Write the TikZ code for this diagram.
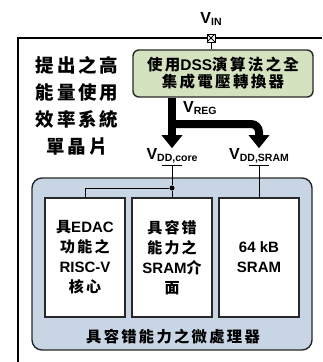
\documentclass[tikz,border=0pt]{standalone}
\usepackage{fontspec}
\setmainfont{Liberation Sans}
\newfontfamily\cjk[LetterSpace=15]{Noto Sans CJK TC}
\newfontfamily\cjkwide[LetterSpace=16]{Noto Sans CJK TC}
\newcommand\zh[1]{{\cjk#1}}
\newcommand\volt[1]{V\raisebox{-0.3ex}{\fontsize{10.5}{10.5}\selectfont#1}}
\usepackage{tikz}
\usetikzlibrary{arrows.meta}

\definecolor{convgreen}{RGB}{213,226,192}
\definecolor{cpublue}{RGB}{200,213,228}
\definecolor{edge}{RGB}{40,40,40}

\begin{document}
\begin{tikzpicture}[
  x=1pt, y=-1pt,
  font=\bfseries\fontsize{15}{20}\selectfont,
  frame/.style={line width=2pt, draw=black},
  pad/.style={
    draw, fill=white, minimum size=8pt, inner sep=0pt, line width=1pt,
    path picture={
      \draw[line width=0.8pt] (path picture bounding box.north west) -- (path picture bounding box.south east)
        (path picture bounding box.north east) -- (path picture bounding box.south west);
    }
  },
  conv/.style={
    draw=edge, fill=convgreen, rounded corners=6pt, line width=1.4pt,
    minimum width=180pt, minimum height=47pt, align=center, inner sep=0pt,
    font=\bfseries\fontsize{15.5}{17}\selectfont
  },
  cpu/.style={
    draw=edge, fill=cpublue, rounded corners=10pt, line width=1.4pt,
    minimum width=280pt, minimum height=172pt
  },
  blk/.style={
    draw=edge, fill=white, line width=1.3pt, align=center, inner sep=0pt,
    minimum width=80pt, minimum height=119pt
  },
  rail/.style={font=\bfseries\fontsize{16}{16}\selectfont, inner sep=0pt},
  bus/.style={line width=8pt, -{Triangle[width=20pt,length=13pt]}, rounded corners=8pt},
  wire/.style={line width=1pt},
  tap/.style={circle, fill=black, minimum size=5pt, inner sep=0pt}
]
  \useasboundingbox (0,0) rectangle (322,362);

  % chip outline, open to the right and bottom
  \draw[frame] (322,38) -| (18,362);

  \node[rail] (vin) at (211,19) {\volt{IN}};
  \node[pad] (pin) at (211,38) {};
  \node[conv] (conv) at (223,73.5) {\zh{使用}DSS\zh{演算法之全}\\\zh{集成電壓轉換器}};
  \draw[wire] (pin.south) -- (pin.south |- conv.north);

  \node[align=center, inner sep=0pt, font=\bfseries\cjkwide\fontsize{18.5}{27}\selectfont] (title) at (77,106)
    {提出之高\\能量使用\\效率系統\\單晶片};

  \node[rail, anchor=west] (vreg) at (183,108) {\volt{REG}};
  \node[rail] (vcore) at (172,156) {\volt{DD,core}};
  \node[rail] (vsram) at (259,156) {\volt{DD,SRAM}};
  \coordinate (split) at (172,124);

  \draw[bus] (conv.south -| vcore) -- (vcore.north);
  \draw[bus] (split) -- (split -| vsram) -- (vsram.north);

  \node[cpu] (cpu) at (172,264) {};
  \node[blk] (core) at (85,257.5) {\zh{具}EDAC\\\zh{功能之}\\RISC-V\\\zh{核心}};
  \node[blk] (iface) at (172,257.5) {\zh{具容错}\\\zh{能力之}\\SRAM\zh{介}\\\zh{面}};
  \node[blk] (sram) at (259,257.5) {64 kB\\SRAM};
  \node[font=\bfseries\cjk\fontsize{15.3}{15}\selectfont] (cpulab) at (173,337) {具容错能力之微處理器};

  % supply pins into the processor
  \coordinate (corepin) at (172,165);
  \coordinate (srampin) at (259,165);
  \draw[wire] ([xshift=-10pt]corepin) -- ([xshift=10pt]corepin);
  \draw[wire] ([xshift=-10pt]srampin) -- ([xshift=10pt]srampin);
  \node[tap] (tap) at (172,188) {};
  \draw[wire] (corepin) -- (tap) -- (iface.north);
  \draw[wire] (tap) -| (core.north);
  \draw[wire] (srampin) -- (sram.north);
\end{tikzpicture}
\end{document}
